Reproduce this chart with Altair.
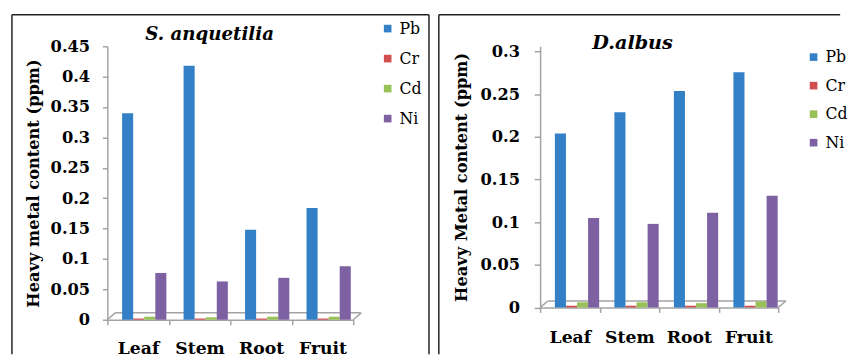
import altair as alt
import pandas as pd

organs = ["Leaf", "Stem", "Root", "Fruit"]
metals = ["Pb", "Cr", "Cd", "Ni"]
metal_colors = ["#3480C6", "#D04E4E", "#98C158", "#7E61A2"]

# S. anquetilia (ppm)
sa_pb = [0.340, 0.418, 0.148, 0.184]
sa_cr = [0.002, 0.002, 0.002, 0.002]
sa_cd = [0.005, 0.004, 0.005, 0.005]
sa_ni = [0.077, 0.063, 0.069, 0.088]

# D. albus (ppm)
da_pb = [0.204, 0.229, 0.254, 0.276]
da_cr = [0.002, 0.002, 0.002, 0.002]
da_cd = [0.006, 0.006, 0.005, 0.007]
da_ni = [0.105, 0.098, 0.111, 0.131]

sa_ticks = [0, 0.05, 0.1, 0.15, 0.2, 0.25, 0.3, 0.35, 0.4, 0.45]
da_ticks = [0, 0.05, 0.1, 0.15, 0.2, 0.25, 0.3]


def table(pb, cr, cd, ni):
    rows = []
    for series, name in zip([pb, cr, cd, ni], metals):
        for organ, v in zip(organs, series):
            rows.append({"organ": organ, "metal": name, "value": v})
    return pd.DataFrame(rows)


FONT = "DejaVu Serif"
AX = "#A3A3A3"
ONE = pd.DataFrame({"k": [0]})


def seg(x, y, x2, y2, color, width):
    return alt.Chart(ONE).mark_rule(color=color, strokeWidth=width).encode(
        x=alt.value(x), y=alt.value(y), x2=alt.value(x2), y2=alt.value(y2)
    )


def panel(df, ticks, ymax, ytitle, title, W, H, c):
    bars = alt.Chart(df).mark_bar().encode(
        x=alt.X(
            "organ:N", sort=organs, title=None,
            scale=alt.Scale(paddingInner=0, paddingOuter=0),
            axis=alt.Axis(
                labelAngle=0, tickBand="extent", labelFont=FONT, labelFontSize=17.5,
                labelFontWeight="bold", labelColor="black", domainColor=AX, tickColor=AX,
                tickSize=5, labelPadding=c["xpad"], domainWidth=1.5, tickWidth=1.5,
            ),
        ),
        xOffset=alt.XOffset("metal:N", sort=metals,
                            scale=alt.Scale(paddingInner=0, paddingOuter=c["opad"],
                                            align=c["oalign"])),
        y=alt.Y(
            "value:Q", title=ytitle,
            scale=alt.Scale(domain=[0, ymax], nice=False, zero=True),
            axis=alt.Axis(
                values=ticks, format="~g", grid=False, labelFont=FONT, labelFontSize=16.5,
                labelFontWeight="bold", labelColor="black", domainColor=AX, tickColor=AX,
                tickSize=c["ytick"], labelPadding=c["ypad"], domainWidth=1.5, tickWidth=1.5,
                titleFont=FONT, titleFontSize=16.5, titleFontWeight="bold",
                titleColor="black", titlePadding=c["tpad"],
            ),
        ),
        color=alt.Color(
            "metal:N", sort=metals,
            scale=alt.Scale(domain=metals, range=metal_colors),
            legend=alt.Legend(
                title=None, orient="none", legendX=c["lx"], legendY=c["ly"],
                symbolType="square", symbolSize=60, symbolStrokeWidth=0, padding=0,
                labelFont=FONT, labelFontSize=16, labelColor="black",
                rowPadding=c["lrow"], labelOffset=4,
            ),
        ),
    )
    d = c["depth"]
    floor = [
        seg(0, H, d[0], H - d[1], AX, 1.5),
        seg(d[0], H - d[1], W + d[0], H - d[1], AX, 1.5),
        seg(W, H, W + d[0], H - d[1], AX, 1.5),
    ]
    ttl = alt.Chart(ONE).mark_text(
        font=FONT, fontSize=c["tsize"], fontWeight="bold", fontStyle="italic", color="black"
    ).encode(x=alt.value(c["tx"]), y=alt.value(c["ty"]), text=alt.value(title))
    b = c["border"]
    borders = [seg(b[0], b[1], b[2], b[1], "#222222", 1.5),
               seg(b[0], b[1], b[0], b[3], "#222222", 1.5)]
    if c["right_edge"]:
        borders.append(seg(b[2], b[1], b[2], b[3], "#222222", 1.5))
    return alt.layer(*floor, bars, ttl, *borders).properties(width=W, height=H)


left = panel(
    table(sa_pb, sa_cr, sa_cd, sa_ni), sa_ticks, 0.45, "Heavy metal content (ppm)", "S. anquetilia",
    250, 278,
    dict(opad=0.778, oalign=0.857, xpad=15, ytick=5, ypad=13, tpad=9, lx=277, ly=-26, lrow=14.5,
         depth=(8, 7), tsize=18.5, tx=104, ty=-12, border=(-97, -32, 327, 313), right_edge=True),
)
right = panel(
    table(da_pb, da_cr, da_cd, da_ni), da_ticks, 0.3063, "Heavy Metal content (ppm)", "D.albus",
    242, 265.5,
    dict(opad=0.75, oalign=0.79, xpad=17, ytick=6, ypad=15, tpad=11, lx=270, ly=3, lrow=13,
         depth=(8, 6.5), tsize=19.5, tx=94, ty=-3, border=(-103, -32, 305, 313), right_edge=False),
)

chart = (
    alt.hconcat(left, right, spacing=8)
    .resolve_scale(color="independent", x="independent", y="independent")
    .resolve_legend(color="independent")
    .properties(padding={"left": 3, "top": 3, "right": 0, "bottom": 0}, background="white")
    .configure_view(stroke=None)
)

chart.save("out.html", embed_options={"renderer": "svg", "actions": False})
